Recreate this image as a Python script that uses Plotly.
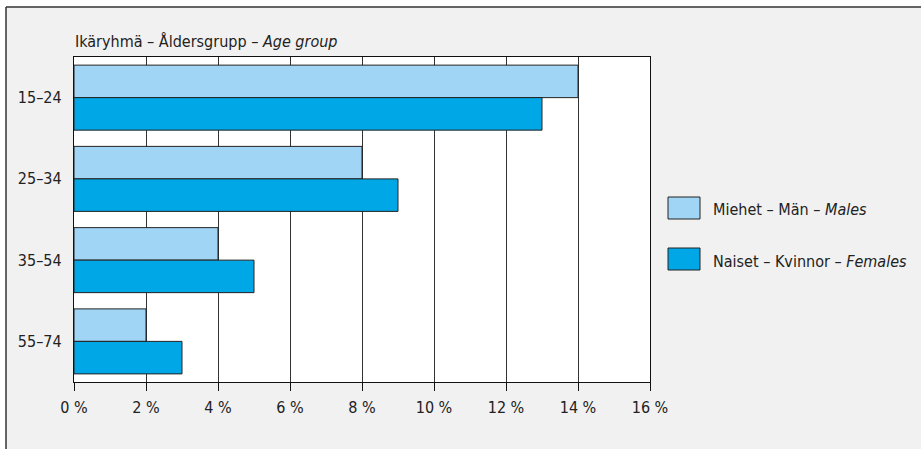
import plotly.graph_objects as go

categories = ["15–24", "25–34", "35–54", "55–74"]
males = [14, 8, 4, 2]
females = [13, 9, 5, 3]
x_ticks = [0, 2, 4, 6, 8, 10, 12, 14, 16]
x_tick_labels = ["0 %", "2 %", "4 %", "6 %", "8 %", "10 %", "12 %", "14 %", "16 %"]
male_label = "Miehet – Män – <i>Males</i>"
female_label = "Naiset – Kvinnor – <i>Females</i>"
title_text = "Ikäryhmä – Åldersgrupp – <i>Age group</i>"

MALE_COLOR = "#a1d5f5"
FEMALE_COLOR = "#00a7e6"
FONT = "DejaVu Sans Condensed, sans-serif"
TXT = "#222222"

W, H = 921, 449
L, R, T, B = 74, 650, 57, 382  # plot area pixel box


def px(x):
    return (x - L) / (R - L)


def py(y):
    return (B - y) / (B - T)


fig = go.Figure()
fig.add_trace(go.Bar(y=categories, x=males, orientation="h", name=male_label,
                     marker=dict(color=MALE_COLOR, line=dict(color="#222222", width=1)),
                     showlegend=False))
fig.add_trace(go.Bar(y=categories, x=females, orientation="h", name=female_label,
                     marker=dict(color=FEMALE_COLOR, line=dict(color="#222222", width=1)),
                     showlegend=False))

shapes = [
    # white outside the frame
    dict(type="rect", xref="paper", yref="paper", x0=px(-5), x1=px(6), y0=py(460), y1=py(-5),
         fillcolor="white", line=dict(width=0), layer="below"),
    dict(type="rect", xref="paper", yref="paper", x0=px(-5), x1=px(930), y0=py(7), y1=py(-5),
         fillcolor="white", line=dict(width=0), layer="below"),
    # frame lines
    dict(type="line", xref="paper", yref="paper", x0=px(6), x1=px(930), y0=py(7), y1=py(7),
         line=dict(color="#333333", width=1.5)),
    dict(type="line", xref="paper", yref="paper", x0=px(6), x1=px(6), y0=py(7), y1=py(460),
         line=dict(color="#333333", width=1.5)),
]

# legend (custom swatches)
legend_items = [(male_label, MALE_COLOR, 197, 219), (female_label, FEMALE_COLOR, 248, 270)]
annotations = []
for label, color, y0, y1 in legend_items:
    shapes.append(dict(type="rect", xref="paper", yref="paper", x0=px(668), x1=px(700),
                       y0=py(y1), y1=py(y0), fillcolor=color, line=dict(color="#222222", width=1)))
    annotations.append(dict(text=label, xref="paper", yref="paper", x=px(711), y=py((y0 + y1) / 2 + 2),
                            xanchor="left", yanchor="middle", showarrow=False,
                            font=dict(family=FONT, size=16, color=TXT)))

annotations.append(dict(text=title_text, xref="paper", yref="paper", x=px(73), y=py(53),
                        xanchor="left", yanchor="bottom", showarrow=False,
                        font=dict(family=FONT, size=16, color=TXT)))

fig.update_layout(
    width=W, height=H,
    margin=dict(l=L, r=W - R, t=T, b=H - B, pad=0),
    paper_bgcolor="#f1f1f1",
    plot_bgcolor="white",
    barmode="group",
    bargap=0.2,
    bargroupgap=0,
    font=dict(family=FONT, size=16, color=TXT),
    shapes=shapes,
    annotations=annotations,
    xaxis=dict(range=[0, 16], tickvals=x_ticks, ticktext=x_tick_labels,
               showgrid=True, gridcolor="#333333", gridwidth=1,
               showline=True, linecolor="#111111", linewidth=1.2, mirror=True,
               ticks="outside", ticklen=8, tickcolor="#111111", zeroline=False,
               ticklabelstandoff=3,
               tickfont=dict(family=FONT, size=16, color=TXT), fixedrange=True),
    yaxis=dict(autorange="reversed", categoryorder="array", categoryarray=categories,
               showline=True, linecolor="#111111", linewidth=1.2, mirror=True,
               showgrid=False, ticks="", ticklabelstandoff=8,
               tickfont=dict(family=FONT, size=16, color=TXT), fixedrange=True),
)

fig.write_html("out.html", config={"displayModeBar": False},
               post_script="document.body.style.margin='0';document.body.style.padding='0';")
